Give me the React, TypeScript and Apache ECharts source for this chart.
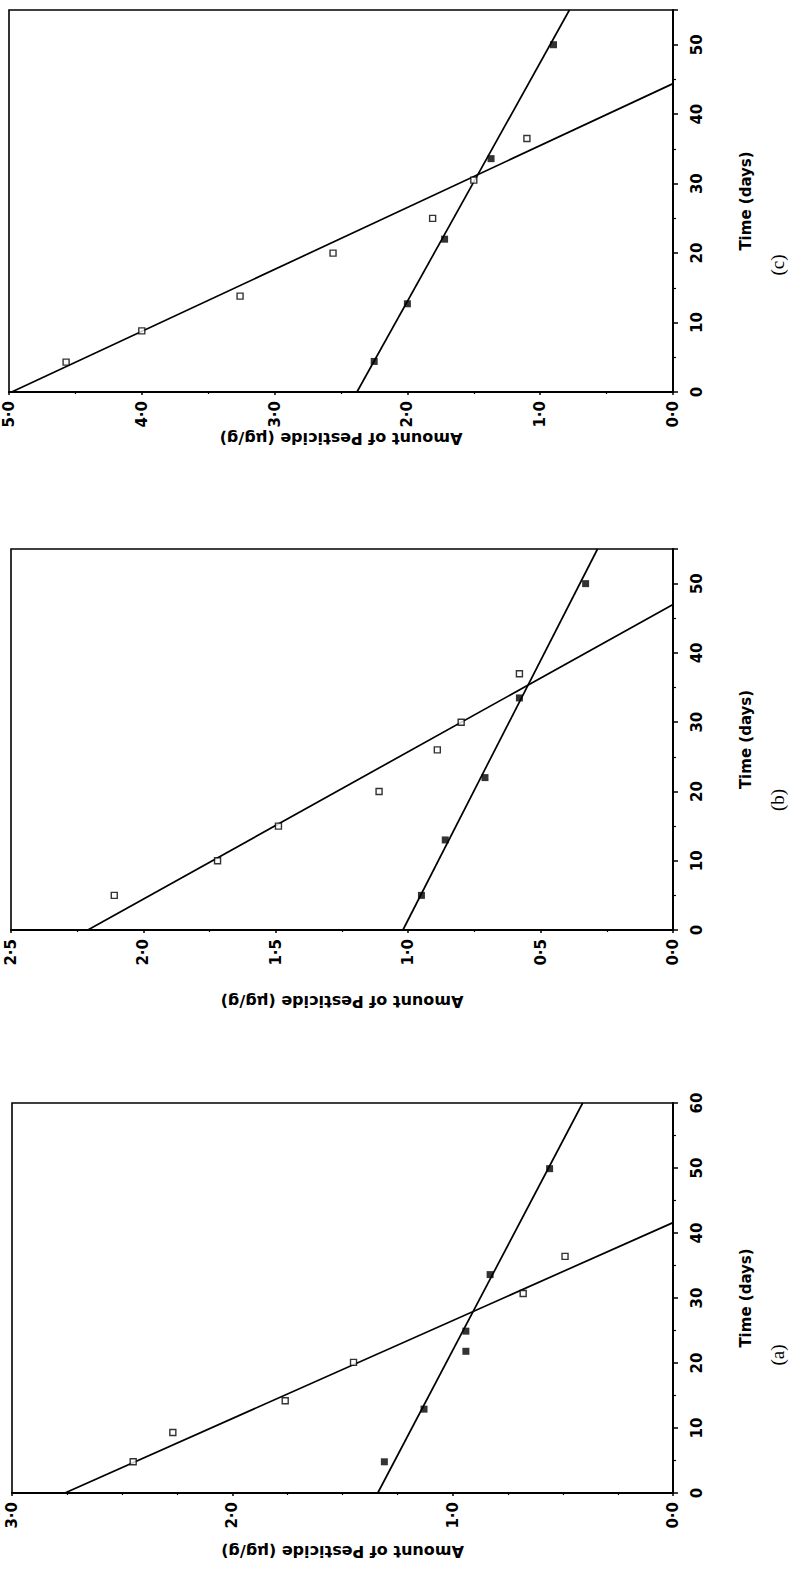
import React, { useEffect, useRef } from "react";
import * as echarts from "echarts";

// Panel (c)
const cOpenDays = [4.3, 8.8, 13.8, 20, 25, 30.5, 36.5];
const cOpenAmt = [4.57, 4.0, 3.26, 2.56, 1.81, 1.5, 1.1];
const cFilledDays = [4.4, 12.7, 22, 33.6, 50];
const cFilledAmt = [2.25, 2.0, 1.72, 1.37, 0.9];
const cOpenFit = [[4.98, 0], [0, 44.4]];
const cFilledFit = [[2.38, 0], [0.78, 55]];

// Panel (b)
const bOpenDays = [5, 10, 15, 20, 26, 30, 37];
const bOpenAmt = [2.11, 1.72, 1.49, 1.11, 0.89, 0.8, 0.58];
const bFilledDays = [5, 13, 22, 33.5, 50];
const bFilledAmt = [0.95, 0.86, 0.71, 0.58, 0.33];
const bOpenFit = [[2.21, 0], [0, 47]];
const bFilledFit = [[1.02, 0], [0.285, 55]];

// Panel (a)
const aOpenDays = [4.8, 9.3, 14.2, 20.1, 30.7, 36.4];
const aOpenAmt = [2.45, 2.27, 1.76, 1.45, 0.68, 0.49];
const aFilledDays = [4.8, 12.9, 21.8, 24.9, 33.6, 49.9];
const aFilledAmt = [1.31, 1.13, 0.94, 0.94, 0.83, 0.56];
const aOpenFit = [[2.76, 0], [0, 41.6]];
const aFilledFit = [[1.34, 0], [0.41, 60]];

const panels = [
  { label: "(c)", left: 9, top: 10, height: 382, amtMax: 5, amtInterval: 1, amtMinor: 2, dayMax: 55,
    openDays: cOpenDays, openAmt: cOpenAmt, filledDays: cFilledDays, filledAmt: cFilledAmt,
    openFit: cOpenFit, filledFit: cFilledFit, tagY: 265, nameY: 438 },
  { label: "(b)", left: 11, top: 549, height: 381, amtMax: 2.5, amtInterval: 0.5, amtMinor: 2, dayMax: 55,
    openDays: bOpenDays, openAmt: bOpenAmt, filledDays: bFilledDays, filledAmt: bFilledAmt,
    openFit: bOpenFit, filledFit: bFilledFit, tagY: 800, nameY: 1001 },
  { label: "(a)", left: 12, top: 1103, height: 390, amtMax: 3, amtInterval: 1, amtMinor: 4, dayMax: 60,
    openDays: aOpenDays, openAmt: aOpenAmt, filledDays: aFilledDays, filledAmt: aFilledAmt,
    openFit: aOpenFit, filledFit: aFilledFit, tagY: 1355, nameY: 1551 },
];

const RIGHT_X = 673;
const TICK_FONT = "DejaVu Sans";

export default function App() {
  const ref = useRef<HTMLDivElement>(null);
  useEffect(() => {
    document.body.style.margin = "0";
    if (!ref.current) return;
    const chart = echarts.init(ref.current, null, { renderer: "svg" });
    const grid: any[] = [];
    const xAxis: any[] = [];
    const yAxis: any[] = [];
    const series: any[] = [];
    const graphic: any[] = [];
    panels.forEach((p, i) => {
      grid.push({
        left: p.left, top: p.top, width: RIGHT_X - p.left, height: p.height,
        show: true, borderColor: "#000", borderWidth: 1.6, backgroundColor: "transparent",
      });
      xAxis.push({
        type: "value", gridIndex: i, min: 0, max: p.amtMax, interval: p.amtInterval,
        inverse: true, position: "bottom",
        axisLine: { show: true, onZero: false, lineStyle: { color: "#000", width: 2 } },
        axisTick: { show: true, length: 3, lineStyle: { color: "#000", width: 1.5 } },
        minorTick: { show: true, splitNumber: p.amtMinor, length: 2, lineStyle: { color: "#000", width: 1.2 } },
        splitLine: { show: false },
        axisLabel: {
          rotate: 90, margin: 9, color: "#000", fontFamily: TICK_FONT, fontWeight: "bold", fontSize: 15,
          formatter: (v: number) => v.toFixed(1).replace(".", "\u00b7"),
        },
      });
      yAxis.push({
        type: "value", gridIndex: i, min: 0, max: p.dayMax, interval: 10, position: "right",
        axisLine: { show: true, onZero: false, lineStyle: { color: "#000", width: 2 } },
        axisTick: { show: true, length: 5, lineStyle: { color: "#000", width: 1.5 } },
        minorTick: { show: true, splitNumber: 2, length: 3, lineStyle: { color: "#000", width: 1.2 } },
        splitLine: { show: false },
        axisLabel: {
          rotate: 90, margin: 16, color: "#000", fontFamily: TICK_FONT, fontWeight: "bold", fontSize: 15,
          showMaxLabel: p.dayMax % 10 === 0,
          formatter: (v: number) => String(v),
        },
      });
      series.push({
        type: "scatter", xAxisIndex: i, yAxisIndex: i, symbol: "rect", symbolSize: 6,
        itemStyle: { color: "#fff", borderColor: "#000", borderWidth: 1.4 },
        data: p.openDays.map((d, k) => [p.openAmt[k], d]),
        z: 5,
      });
      series.push({
        type: "scatter", xAxisIndex: i, yAxisIndex: i, symbol: "rect", symbolSize: 7,
        itemStyle: { color: "#000" },
        data: p.filledDays.map((d, k) => [p.filledAmt[k], d]),
        z: 5,
      });
      series.push({
        type: "line", xAxisIndex: i, yAxisIndex: i, showSymbol: false, silent: true,
        lineStyle: { color: "#000", width: 1.7 }, data: p.openFit, clip: true,
      });
      series.push({
        type: "line", xAxisIndex: i, yAxisIndex: i, showSymbol: false, silent: true,
        lineStyle: { color: "#000", width: 1.7 }, data: p.filledFit, clip: true,
      });
      const midY = p.top + p.height / 2;
      graphic.push({
        type: "text", x: 746, y: midY, rotation: Math.PI / 2,
        style: { text: "Time (days)", fill: "#000", font: `bold 15px "${TICK_FONT}"`, align: "center", verticalAlign: "middle" },
      });
      graphic.push({
        type: "text", x: 777, y: p.tagY, rotation: Math.PI / 2,
        style: { text: p.label, fill: "#000", font: `19px "Liberation Serif"`, align: "center", verticalAlign: "middle" },
      });
      graphic.push({
        type: "text", x: (p.left + RIGHT_X) / 2, y: p.nameY, rotation: Math.PI,
        style: { text: "Amount of Pesticide (\u00b5g/g)", fill: "#000", font: `bold 16px "${TICK_FONT}"`, align: "center", verticalAlign: "middle" },
      });
    });
    chart.setOption({
      animation: false,
      backgroundColor: "#fff",
      grid, xAxis, yAxis, series, graphic,
    });
    return () => chart.dispose();
  }, []);
  return <div ref={ref} style={{ width: 807, height: 1570 }} />;
}
